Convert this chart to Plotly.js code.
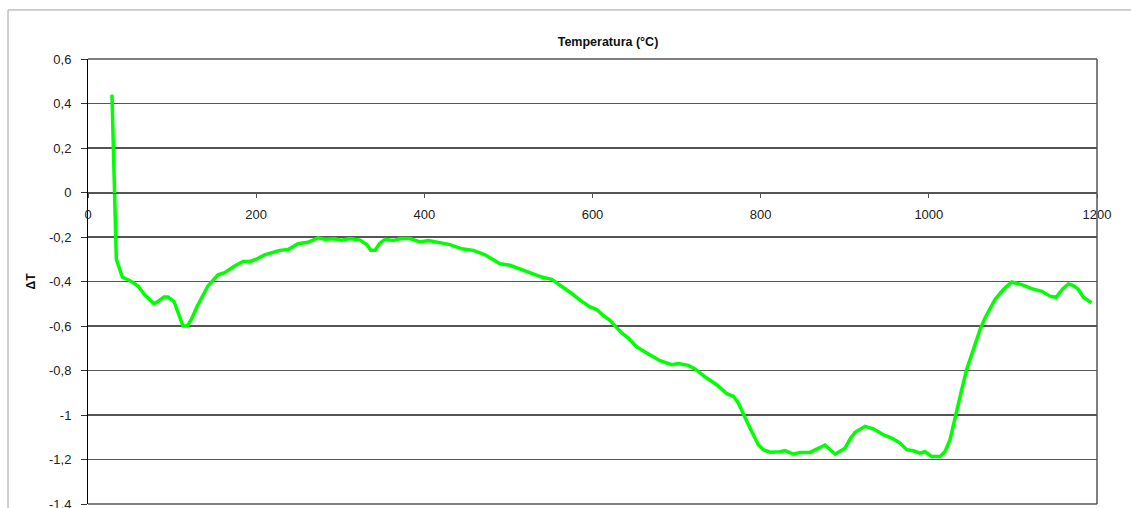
<!DOCTYPE html>
<html>
<head>
<meta charset="utf-8">
<script src="https://cdn.plot.ly/plotly-3.0.1.min.js"></script>
<style>html,body{margin:0;padding:0;background:#fff;}#chart{width:1131px;height:508px;}</style>
</head>
<body>
<div id="chart"></div>
<script>
var temperature = [28.5, 33.7, 40.8, 51.5, 59.5, 67.4, 78.5, 83.2, 90.4, 95.1, 102.3, 107, 113, 118, 123, 130, 142.7, 154.6, 162.5, 174.4, 184.3, 192.3, 200.2, 210, 220, 228, 237.9, 249.8, 261.6, 273.5, 281.5, 293.4, 301.3, 311.6, 323.5, 331.5, 336.2, 341.4, 346.5, 353.2, 363.2, 371, 383, 394.9, 404.8, 418.7, 430.6, 444.5, 458.3, 472.2, 480.2, 490, 501.9, 513.8, 527.7, 539.6, 551.5, 563.4, 575.3, 585.2, 597, 605, 612.9, 620.8, 626.8, 634.7, 642.6, 652.6, 664.5, 680.3, 694.2, 702.1, 714, 721.9, 735.8, 747.7, 759.6, 767.5, 773.4, 781.4, 787.3, 791.3, 797.2, 803.2, 811.1, 823, 829, 838.9, 846.8, 858.7, 870.6, 876.5, 888.4, 900.3, 906.3, 912.2, 924.1, 934, 945.9, 955.9, 965.8, 973.7, 981.6, 989.5, 995.5, 1003.4, 1013.3, 1019.3, 1025.2, 1031.2, 1039.1, 1045, 1053, 1060.9, 1066.8, 1078.7, 1088.6, 1098.6, 1110.5, 1122.4, 1134.3, 1144.2, 1151.3, 1159.2, 1165.9, 1171.9, 1177.8, 1183.8, 1193.7];
var deltaT = [0.44, -0.30, -0.38, -0.40, -0.42, -0.46, -0.50, -0.49, -0.47, -0.47, -0.49, -0.54, -0.60, -0.60, -0.57, -0.51, -0.42, -0.37, -0.36, -0.33, -0.31, -0.31, -0.30, -0.28, -0.27, -0.26, -0.256, -0.23, -0.224, -0.204, -0.21, -0.208, -0.214, -0.207, -0.214, -0.234, -0.26, -0.26, -0.23, -0.21, -0.216, -0.207, -0.207, -0.222, -0.216, -0.226, -0.234, -0.253, -0.26, -0.28, -0.30, -0.32, -0.327, -0.343, -0.364, -0.38, -0.39, -0.42, -0.454, -0.484, -0.514, -0.526, -0.553, -0.574, -0.598, -0.631, -0.654, -0.694, -0.721, -0.756, -0.774, -0.769, -0.777, -0.793, -0.834, -0.864, -0.904, -0.916, -0.946, -1.006, -1.058, -1.089, -1.134, -1.156, -1.167, -1.165, -1.16, -1.176, -1.168, -1.168, -1.144, -1.135, -1.176, -1.149, -1.108, -1.078, -1.051, -1.062, -1.089, -1.104, -1.126, -1.156, -1.161, -1.171, -1.165, -1.186, -1.186, -1.164, -1.111, -1.006, -0.886, -0.796, -0.706, -0.616, -0.564, -0.481, -0.436, -0.402, -0.414, -0.432, -0.444, -0.466, -0.471, -0.433, -0.411, -0.418, -0.436, -0.471, -0.496];
var yTickVals = [0.6, 0.4, 0.2, 0, -0.2, -0.4, -0.6, -0.8, -1, -1.2, -1.4];
var yTickText = ['0,6', '0,4', '0,2', '0', '-0,2', '-0,4', '-0,6', '-0,8', '-1', '-1,2', '-1,4'];
var xTickVals = [0, 200, 400, 600, 800, 1000, 1200];
var xTickText = ['0', '200', '400', '600', '800', '1000', '1200'];
var chartTitle = 'Temperatura (°C)';
var yTitle = 'ΔT';

var font = 'Liberation Sans, Arial, sans-serif';
var trace = {
  x: temperature, y: deltaT, type: 'scatter', mode: 'lines',
  line: {color: '#00ff00', width: 3.5},
  hoverinfo: 'x+y', showlegend: false
};
var layout = {
  width: 1131, height: 508,
  margin: {l: 88, r: 34, t: 59, b: 4, pad: 0},
  paper_bgcolor: '#ffffff', plot_bgcolor: '#ffffff',
  font: {family: font, size: 12, color: '#222'},
  showlegend: false,
  title: {text: chartTitle, font: {family: font, size: 12.5, color: '#111', weight: 'bold'},
          x: 608/1131, xref: 'container', xanchor: 'center', y: 1 - 42/508, yref: 'container', yanchor: 'middle'},
  xaxis: {
    range: [0, 1200], anchor: 'free', position: 0.7, side: 'bottom',
    tickmode: 'array', tickvals: xTickVals, ticktext: xTickText,
    ticks: 'outside', ticklen: 4, tickwidth: 1, tickcolor: '#555',
    showline: true, linecolor: '#555', linewidth: 1.3,
    showgrid: false, zeroline: false, ticklabelstandoff: 6, ticklabeloverflow: 'allow',
    tickfont: {family: font, size: 13, color: '#222'}
  },
  yaxis: {
    range: [-1.4, 0.6], tickmode: 'array', tickvals: yTickVals, ticktext: yTickText,
    ticks: 'outside', ticklen: 6, tickwidth: 1, tickcolor: '#333',
    showline: true, linecolor: '#000', linewidth: 1,
    showgrid: true, gridcolor: '#555555', gridwidth: 1.4, zeroline: false,
    ticklabelstandoff: 7, ticklabeloverflow: 'allow',
    tickfont: {family: font, size: 13, color: '#222'},
    title: {text: yTitle, font: {family: font, size: 12, color: '#111', weight: 'bold'}, standoff: 10}
  },
  shapes: [
    {type: 'line', xref: 'paper', yref: 'paper', x0: 1, x1: 1, y0: 0, y1: 1, line: {color: '#555555', width: 1.5}},
    {type: 'line', xref: 'paper', yref: 'paper', x0: 0, x1: 1, y0: 1, y1: 1, line: {color: '#555555', width: 1.4}},
    {type: 'line', xref: 'paper', yref: 'paper', x0: 0, x1: 1, y0: 0, y1: 0, line: {color: '#555555', width: 1.4}},
    {type: 'line', xref: 'paper', yref: 'paper', x0: (8-88)/1009, x1: (1140-88)/1009, y0: (503.7-10)/444.7, y1: (503.7-10)/444.7, line: {color: '#a0a0a0', width: 1}},
    {type: 'line', xref: 'paper', yref: 'paper', x0: (8-88)/1009, x1: (8-88)/1009, y0: (503.7-10)/444.7, y1: -0.1, line: {color: '#a0a0a0', width: 1}}
  ]
};
Plotly.newPlot('chart', [trace], layout, {displayModeBar: false, staticPlot: true});
</script>
</body>
</html>
